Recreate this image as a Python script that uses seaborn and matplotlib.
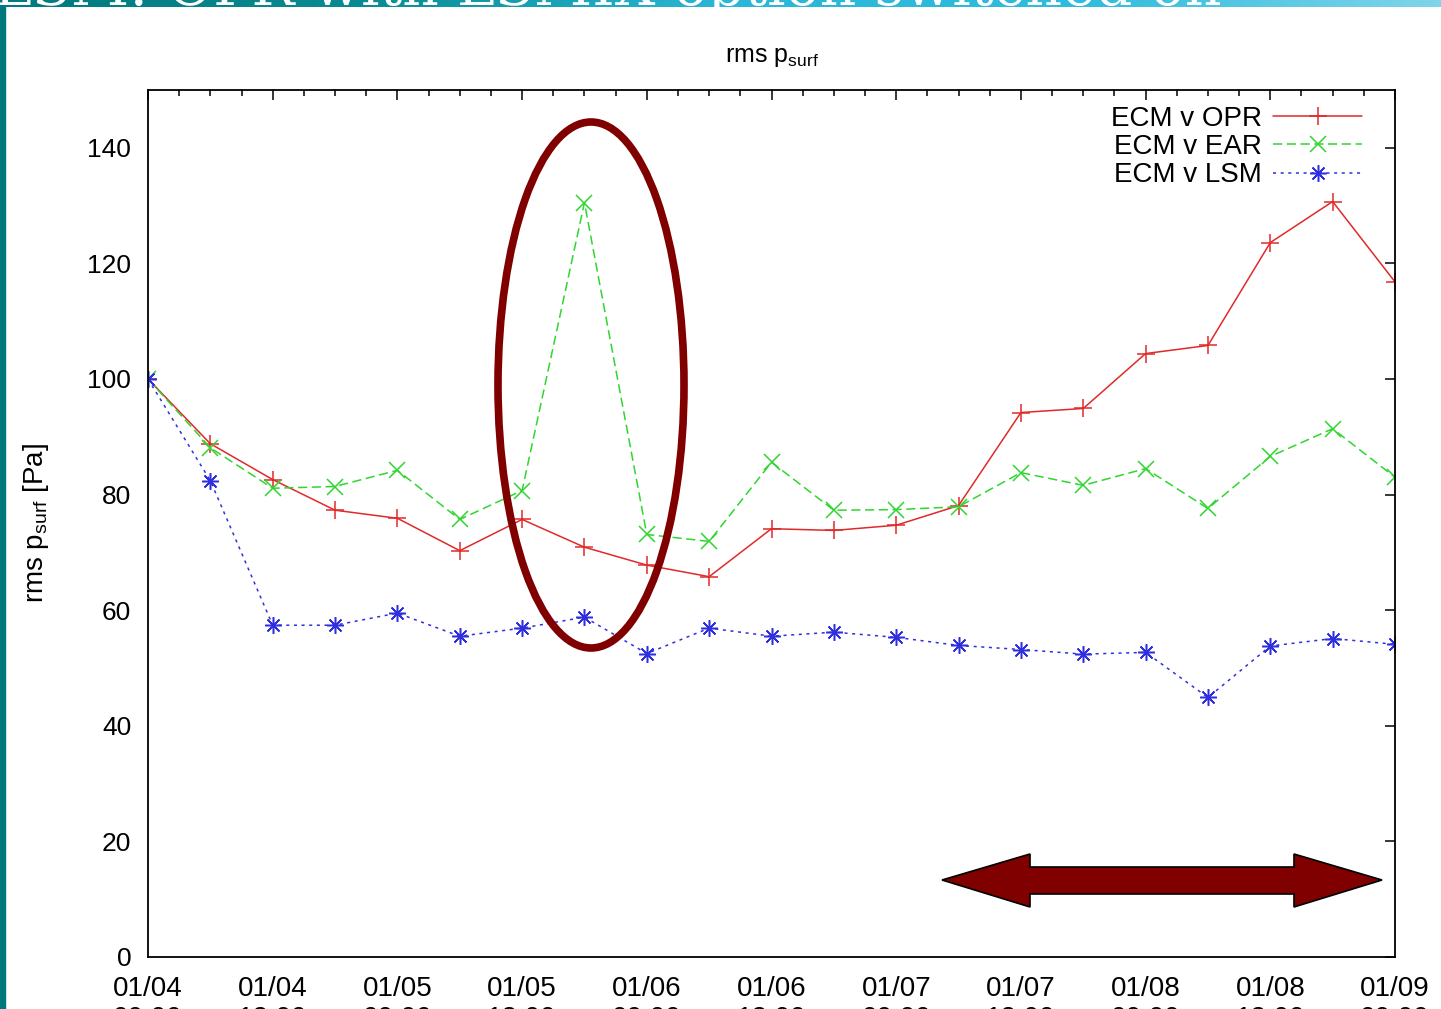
import numpy as np
import pandas as pd
import seaborn as sns
import matplotlib.pyplot as plt
from matplotlib.colors import LinearSegmentedColormap
from matplotlib.patches import Ellipse, Polygon, Rectangle
from matplotlib.ticker import MultipleLocator

# forecast step (hours after 01/04 00:00)
hours = [0, 6, 12, 18, 24, 30, 36, 42, 48, 54, 60, 66, 72, 78, 84, 90, 96, 102, 108, 114, 120]

# rms p_surf [Pa]
opr = [100, 88.8, 82.6, 77.3, 75.9, 70.3, 75.7, 70.9, 67.8, 65.8, 74.1,
       73.8, 74.7, 78.1, 94.2, 94.9, 104.4, 105.8, 123.6, 130.7, 116.8]
ear = [100, 88.1, 81.1, 81.4, 84.2, 75.7, 80.7, 130.5, 73.1, 71.9, 85.6,
       77.3, 77.4, 77.9, 83.8, 81.6, 84.5, 77.6, 86.6, 91.4, 83.0]
lsm = [100, 82.4, 57.4, 57.4, 59.5, 55.5, 56.9, 58.8, 52.5, 56.9, 55.5,
       56.2, 55.3, 53.9, 53.2, 52.4, 52.7, 44.9, 53.8, 55.1, 54.1]

tick_hours = [0, 12, 24, 36, 48, 60, 72, 84, 96, 108, 120]
tick_labels = ['01/04\n00:00', '01/04\n12:00', '01/05\n00:00', '01/05\n12:00',
               '01/06\n00:00', '01/06\n12:00', '01/07\n00:00', '01/07\n12:00',
               '01/08\n00:00', '01/08\n12:00', '01/09\n00:00']
y_ticks = [0, 20, 40, 60, 80, 100, 120, 140]

header_text = 'LSM: OPR with LSMIX option switched on'

sns.set_style('white')
plt.rcParams['font.family'] = ['Liberation Sans', 'DejaVu Sans']
plt.rcParams['mathtext.fontset'] = 'custom'
plt.rcParams['mathtext.rm'] = 'Liberation Sans'
plt.rcParams['mathtext.it'] = 'Liberation Sans:italic'
for k in ['text.color', 'axes.labelcolor', 'xtick.color', 'ytick.color']:
    plt.rcParams[k] = 'black'

W, H = 1441, 1009
fig = plt.figure(figsize=(W / 100, H / 100), dpi=100)
ax = fig.add_axes([148 / W, 1 - 957 / H, (1395 - 148) / W, (957 - 90) / H])

df = pd.DataFrame({'hour': hours, 'opr': opr, 'ear': ear, 'lsm': lsm})

red, green, blue = '#e02a2a', '#2fd62f', '#2f2fe0'
sns.lineplot(data=df, x='hour', y='opr', ax=ax, color=red, lw=1.1,
             marker='+', ms=13, mew=1.1, mec=red, label='ECM v OPR')
sns.lineplot(data=df, x='hour', y='ear', ax=ax, color=green, lw=1.1,
             linestyle=(0, (6, 3)), marker='x', ms=11, mew=1.1, mec=green, label='ECM v EAR')
sns.lineplot(data=df, x='hour', y='lsm', ax=ax, color=blue, lw=1.1,
             linestyle=(0, (2, 3)), marker=(8, 2, 0), ms=12, mew=1.1, mec=blue, label='ECM v LSM')

ax.set_xlim(0, 120)
ax.set_ylim(0, 150)
ax.set_xticks(tick_hours)
ax.set_xticklabels(tick_labels)
ax.xaxis.set_minor_locator(MultipleLocator(3))
ax.set_yticks(y_ticks)
ax.tick_params(which='both', direction='in', top=True, right=True, width=1.1, color='black')
ax.tick_params(which='major', length=7)
ax.tick_params(which='minor', length=4)
ax.tick_params(axis='x', labelsize=20, pad=14)
ax.tick_params(axis='y', labelsize=19, pad=12)
for s in ax.spines.values():
    s.set_color('black')
    s.set_linewidth(1.3)

ax.set_xlabel('')
ax.set_ylabel(r'rms p$_{\mathrm{surf}}$ [Pa]', fontsize=20, labelpad=26)
ax.set_title(r'rms p$_{\mathrm{surf}}$', fontsize=18, pad=20)

ax.legend(loc='upper right', bbox_to_anchor=(1 - 33 / 1247, 1 - 16 / 867),
          borderaxespad=0, borderpad=0, frameon=False, markerfirst=False,
          fontsize=20, handlelength=3.2, handletextpad=0.4, labelspacing=0.08)

# highlight ellipse and range arrow
fig.add_artist(Ellipse((591 / W, 1 - 385 / H), 186 / W, 526 / H, transform=fig.transFigure,
                       fill=False, ec='#800000', lw=5.5, zorder=5))
arrow_px = [(942, 880), (1030, 854), (1030, 867), (1294, 867), (1294, 854), (1382, 880),
            (1294, 907), (1294, 894), (1030, 894), (1030, 907)]
fig.add_artist(Polygon([(x / W, 1 - y / H) for x, y in arrow_px], closed=True,
                       transform=fig.transFigure, fc='#800000', ec='black', lw=1.2, zorder=5))

# slide decoration: header band and left border
hax = fig.add_axes([0, 1 - 7 / H, 1, 7 / H])
cmap = LinearSegmentedColormap.from_list('hdr', ['#007a7e', '#0a8a92', '#2ab6d6', '#30bcdc', '#7fd4ea'])
hax.imshow(np.linspace(0, 1, 256)[None, :], aspect='auto', cmap=cmap, extent=[0, 1, 0, 1])
hax.axis('off')
fig.text(-0.004, 1 - 5 / H, header_text, color='white', fontsize=41,
         family='DejaVu Serif', va='baseline', ha='left', zorder=6)
fig.add_artist(Rectangle((0, 0), 5 / W, 1 - 7 / H, transform=fig.transFigure,
                         color='#00797d', zorder=6))

plt.savefig('out.png', dpi=100)
